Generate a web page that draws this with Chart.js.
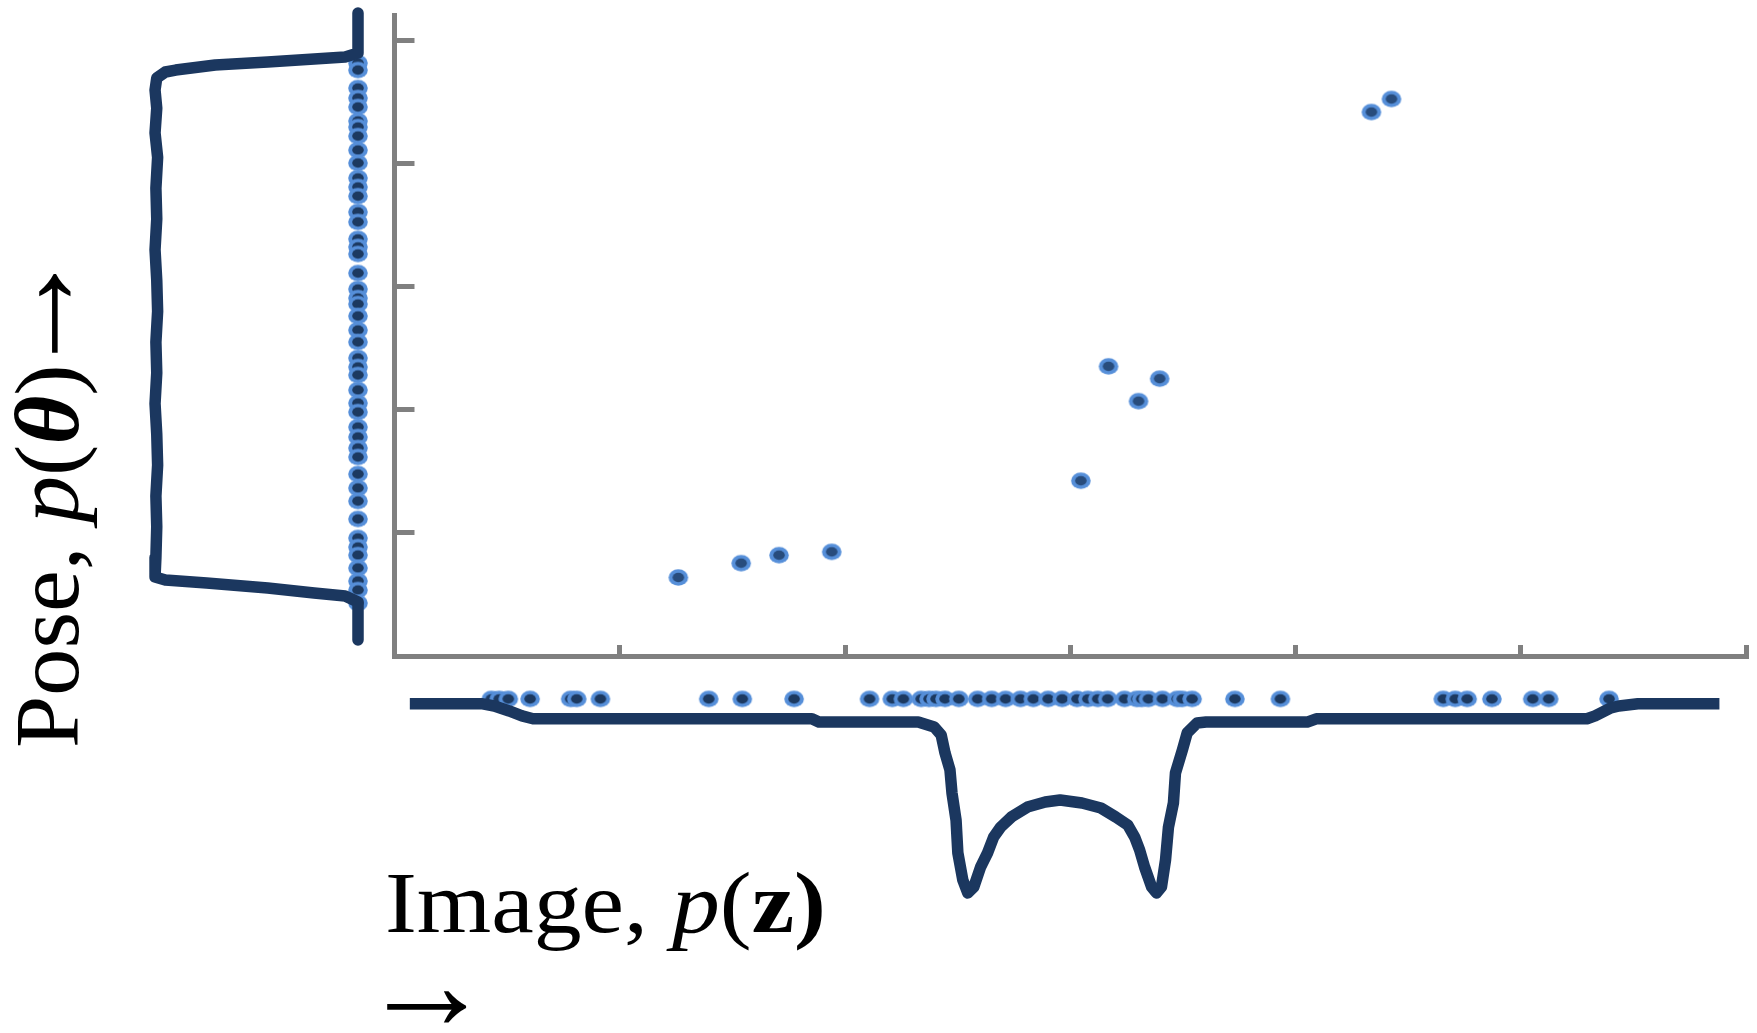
<!DOCTYPE html>
<html>
<head>
<meta charset="utf-8">
<script src="https://cdn.jsdelivr.net/npm/chart.js@4.4.1/dist/chart.umd.min.js"></script>
<style>
  html, body { margin: 0; padding: 0; background: #fff; }
  #wrap { position: relative; width: 1757px; height: 1033px; overflow: hidden; background: #fff; }
  canvas { position: absolute; left: 0; top: 0; }
  .lab { position: absolute; font-family: 'Liberation Serif', 'Times New Roman', serif; color: #000;
         white-space: nowrap; transform-origin: 0 0; line-height: 1; }
  #xlab { font-size: 87px; left: 385px; top: 859px; }
  #xarrow { font-size: 130px; left: 362px; top: 922px; }
  #ylab { font-size: 90px; left: 3px; top: 748px; }
  #yarrow { font-size: 130px; left: -28px; top: 372px; }
</style>
</head>
<body>
<div id="wrap">
  <canvas id="mainChart" width="1757" height="1033"></canvas>
  <canvas id="poseChart" width="1757" height="1033"></canvas>
  <canvas id="imageChart" width="1757" height="1033"></canvas>
  <div id="xlab" class="lab">Image, <i>p</i>(<b>z)</b></div>
  <div id="xarrow" class="lab">→</div>
  <div id="ylab" class="lab">Pose, <i>p</i>(<b><i>θ</i></b>)</div>
  <div id="yarrow" class="lab">→</div>
</div>
<script>
// Joint samples (image value, pose value)
const sampleX = [1.260, 1.539, 1.707, 1.941, 3.047, 3.170, 3.303, 3.397, 4.337, 4.426];
const sampleY = [0.638, 0.754, 0.819, 0.846, 1.424, 2.353, 2.070, 2.253, 4.419, 4.525];

// Pose marginal: density curve (drawn leftwards) and sample column
const poseTheta = [5.223, 4.898, 4.866, 4.858, 4.825, 4.801, 4.760, 4.744, 4.695, 4.598,
  4.45, 4.25, 4.05, 3.80, 3.55, 3.30, 3.05, 2.80, 2.55, 2.30, 2.05, 1.80, 1.55, 1.30, 1.05, 0.80,
  0.642, 0.617, 0.593, 0.552, 0.512, 0.487, 0.439, 0.130];
const poseDensity = [0, 0, 0.015, 0.033, 0.105, 0.166, 0.212, 0.224, 0.234, 0.236,
  0.234, 0.236, 0.233, 0.235, 0.234, 0.236, 0.234, 0.233, 0.235, 0.234, 0.236, 0.234, 0.233, 0.235, 0.234, 0.235,
  0.236, 0.224, 0.176, 0.105, 0.051, 0.015, 0, 0];
const poseSamples = [4.817, 4.760, 4.614, 4.533, 4.460, 4.346, 4.297, 4.224, 4.110, 4.005,
  3.883, 3.810, 3.736, 3.607, 3.526, 3.388, 3.323, 3.266, 3.111, 2.981,
  2.908, 2.859, 2.762, 2.648, 2.551, 2.421, 2.348, 2.283, 2.161, 2.055,
  1.982, 1.860, 1.779, 1.690, 1.617, 1.478, 1.365, 1.259, 1.113, 0.959,
  0.885, 0.820, 0.715, 0.609, 0.536, 0.431];

// Image marginal: density curve (drawn downwards) and sample row
const imageZ = [0.068, 0.386, 0.443, 0.509, 0.566, 0.615, 1.853, 1.884, 2.325, 2.396,
  2.427, 2.444, 2.466, 2.475, 2.493, 2.501, 2.523, 2.545, 2.572, 2.602,
  2.633, 2.660, 2.691, 2.739, 2.810, 2.889, 2.955, 3.052, 3.136, 3.202,
  3.255, 3.286, 3.308, 3.330, 3.361, 3.383, 3.405, 3.423, 3.436, 3.458,
  3.467, 3.498, 3.519, 3.563, 3.603, 4.052, 4.092, 5.294, 5.330, 5.365,
  5.400, 5.436, 5.520, 5.882];
const imageDensity = [0, 0, 0.012, 0.038, 0.064, 0.079, 0.079, 0.096, 0.096, 0.122,
  0.164, 0.258, 0.347, 0.468, 0.609, 0.781, 0.923, 0.991, 0.959, 0.855,
  0.781, 0.698, 0.646, 0.593, 0.541, 0.515, 0.504, 0.520, 0.546, 0.593,
  0.635, 0.698, 0.766, 0.855, 0.959, 0.991, 0.959, 0.818, 0.646, 0.520,
  0.363, 0.242, 0.153, 0.101, 0.096, 0.096, 0.079, 0.079, 0.064, 0.043,
  0.022, 0.012, 0, 0];
const imageSamples = [0.430, 0.465, 0.505, 0.602, 0.782, 0.809, 0.914, 1.395, 1.544, 1.774,
  2.109, 2.210, 2.259, 2.338, 2.373, 2.404, 2.444, 2.505, 2.589, 2.651,
  2.713, 2.779, 2.836, 2.902, 2.964, 3.030, 3.078, 3.122, 3.166, 3.241,
  3.295, 3.317, 3.347, 3.409, 3.475, 3.497, 3.541, 3.731, 3.933, 4.656,
  4.709, 4.762, 4.872, 5.053, 5.124, 5.392];

const X_MIN = 0, X_MAX = 6, Y_MIN = 0, Y_MAX = 5.207;
const AXIS_GREY = '#808080';
const CURVE = '#1b375f';

// Two-tone elliptical marker
function dotSprite(inner) {
  const c = document.createElement('canvas');
  c.width = 22; c.height = 19;
  const g = c.getContext('2d');
  g.fillStyle = '#568fd9';
  g.beginPath(); g.ellipse(11, 9.5, 9.8, 8.2, 0, 0, Math.PI * 2); g.fill();
  g.fillStyle = inner;
  g.beginPath(); g.ellipse(11, 9.5, 5.8, 4.7, 0, 0, Math.PI * 2); g.fill();
  return c;
}
const mainDot = dotSprite('#284c7c');
const marginDot = dotSprite('#1c3960');

const base = {
  responsive: false,
  animation: false,
  devicePixelRatio: 1,
  events: [],
  plugins: { legend: { display: false }, tooltip: { enabled: false } }
};
const hidden = (extra) => Object.assign({ type: 'linear', display: false }, extra);

// Main joint scatter with inward ticks
new Chart(document.getElementById('mainChart'), {
  type: 'scatter',
  data: {
    datasets: [{
      data: sampleX.map((x, i) => ({ x, y: sampleY[i] })),
      pointStyle: mainDot, pointRadius: 10, clip: false
    }]
  },
  options: Object.assign({}, base, {
    layout: { padding: { left: 394.5, right: 1, top: 15, bottom: 377 } },
    scales: {
      x: {
        type: 'linear', min: X_MIN, max: X_MAX, position: 'bottom',
        ticks: { display: false, stepSize: 1, autoSkip: false, includeBounds: false },
        grid: { drawOnChartArea: false, drawTicks: true, tickLength: -11, tickWidth: 5, tickColor: AXIS_GREY },
        border: { display: true, color: AXIS_GREY, width: 5 },
        afterFit(s) { s.height = 0; }
      },
      y: {
        type: 'linear', min: Y_MIN, max: Y_MAX, position: 'left',
        ticks: { display: false, stepSize: 1, autoSkip: false, includeBounds: false },
        grid: { drawOnChartArea: false, drawTicks: true, tickLength: -20, tickWidth: 5, tickColor: AXIS_GREY },
        border: { display: true, color: AXIS_GREY, width: 5 },
        afterFit(s) { s.width = 0; }
      }
    }
  })
});

// Pose marginal, sharing the vertical scale of the joint plot
new Chart(document.getElementById('poseChart'), {
  type: 'scatter',
  data: {
    datasets: [
      {
        data: poseTheta.map((t, i) => ({ x: poseDensity[i], y: t })),
        showLine: true, pointRadius: 0, borderColor: CURVE, borderWidth: 11.5,
        borderCapStyle: 'round', borderJoinStyle: 'round', tension: 0, clip: false, order: 0
      },
      {
        data: poseSamples.map(t => ({ x: 0, y: t })),
        pointStyle: marginDot, pointRadius: 10, clip: false, order: 1
      }
    ]
  },
  options: Object.assign({}, base, {
    layout: { padding: { left: 100, right: 1399, top: 15, bottom: 377 } },
    scales: {
      x: hidden({ min: 0, max: 0.3, reverse: true }),
      y: hidden({ min: Y_MIN, max: Y_MAX })
    }
  })
});

// Image marginal, sharing the horizontal scale of the joint plot
new Chart(document.getElementById('imageChart'), {
  type: 'scatter',
  data: {
    datasets: [
      {
        data: imageZ.map((z, i) => ({ x: z, y: imageDensity[i] })),
        showLine: true, pointRadius: 0, borderColor: CURVE, borderWidth: 11.5,
        borderCapStyle: 'butt', borderJoinStyle: 'round', tension: 0, clip: false, order: 0
      },
      {
        data: imageSamples.map(z => ({ x: z, y: -0.025 })),
        pointStyle: marginDot, pointRadius: 10, clip: false, order: 1
      }
    ]
  },
  options: Object.assign({}, base, {
    layout: { padding: { left: 394.5, right: 1, top: 703.7, bottom: 33 } },
    scales: {
      x: hidden({ min: X_MIN, max: X_MAX }),
      y: hidden({ min: 0, max: 1.5513, reverse: true })
    }
  })
});

// Axis captions: text stretched to its extent, arrows placed by their ink box
const FAMILY = '"Liberation Serif", "Times New Roman", serif';
function fitLabel(el, target, rotate) {
  const s = target / el.offsetWidth;
  el.style.transform = (rotate ? 'rotate(-90deg) ' : '') + 'scaleX(' + s.toFixed(4) + ')';
}
function arrowMetrics(length) {
  const g = document.createElement('canvas').getContext('2d');
  g.font = '100px ' + FAMILY;
  let m = g.measureText('→');
  const size = 100 * length / (m.actualBoundingBoxLeft + m.actualBoundingBoxRight);
  g.font = size.toFixed(2) + 'px ' + FAMILY;
  m = g.measureText('→');
  const asc = m.fontBoundingBoxAscent, desc = m.fontBoundingBoxDescent;
  const baseOff = (size - (asc + desc)) / 2 + asc;
  const shaft = baseOff - (m.actualBoundingBoxAscent - m.actualBoundingBoxDescent) / 2;
  return { size, shaft, left: m.actualBoundingBoxLeft, right: m.actualBoundingBoxRight };
}
function layoutLabels() {
  fitLabel(document.getElementById('xlab'), 441, false);
  fitLabel(document.getElementById('ylab'), 384, true);

  const a = arrowMetrics(80);
  const xa = document.getElementById('xarrow');
  xa.style.fontSize = a.size + 'px';
  xa.style.left = (387 + a.left) + 'px';
  xa.style.top = (1007.5 - a.shaft) + 'px';

  const ya = document.getElementById('yarrow');
  ya.style.fontSize = a.size + 'px';
  ya.style.left = (56 - a.shaft) + 'px';
  ya.style.top = (273 + a.right) + 'px';
  ya.style.transform = 'rotate(-90deg)';
}
layoutLabels();
if (document.fonts && document.fonts.ready) document.fonts.ready.then(layoutLabels);
</script>
</body>
</html>
